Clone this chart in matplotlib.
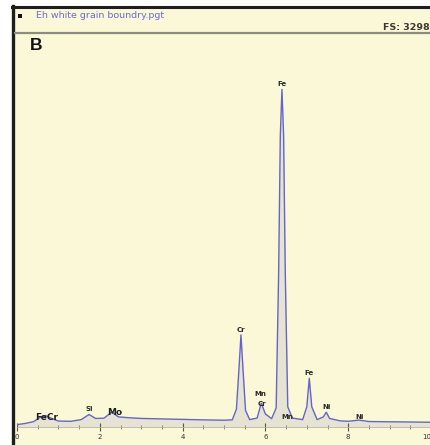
import matplotlib
matplotlib.use("Agg")
import matplotlib.pyplot as plt
from matplotlib.patches import Rectangle
from matplotlib.lines import Line2D

# ---------------- data ----------------
energy_kev = [0.00, 0.20, 0.40, 0.55, 0.70, 0.85, 1.00, 1.30, 1.55, 1.74, 1.90,
              2.10, 2.29, 2.45, 2.70, 3.00, 3.50, 4.00, 4.50, 5.00, 5.20, 5.30,
              5.36, 5.41, 5.46, 5.52, 5.62, 5.80, 5.90, 6.00, 6.15, 6.26, 6.32,
              6.36, 6.40, 6.44, 6.48, 6.54, 6.65, 6.90, 7.00, 7.06, 7.12, 7.25,
              7.40, 7.47, 7.55, 7.80, 8.00, 8.26, 8.50, 9.00, 9.50, 10.00]
counts = [20, 30, 45, 80, 95, 70, 50, 48, 62, 105, 72,
          74, 125, 85, 78, 72, 68, 64, 60, 57, 60, 150,
          480, 775, 480, 140, 62, 75, 200, 110, 70, 160, 1300,
          2450, 2840, 2450, 1300, 170, 75, 62, 170, 410, 170, 62,
          85, 125, 72, 52, 48, 58, 46, 44, 42, 40]

peak_labels = ["Fe", "Cr", "Fe", "Mn", "Cr", "Mn", "Ni", "Ni", "Si", "Mo", "FeCr"]
peak_energy = [6.40, 5.41, 7.06, 5.88, 5.92, 6.52, 7.47, 8.28, 1.74, 2.35, 0.72]
peak_counts = [2840, 775, 410, 230, 150, 40, 125, 40, 105, 60, 25]

x_ticks = [0, 2, 4, 6, 8, 10]
x_tick_labels = ["0", "2", "4", "6", "8", "10"]
full_scale = 3298
title_text = "Eh white grain boundry.pgt"
fs_text = "FS: 3298"
panel_letter = "B"

# ---------------- figure ----------------
W, H = 431, 445
fig = plt.figure(figsize=(W / 100, H / 100), dpi=100, facecolor="white")
cream = "#FBF8D8"

def fx(px):
    return px / W

def fy(py):
    return 1 - py / H

# cream panel
fig.patches.append(Rectangle((fx(13), 0), 1 - fx(13), fy(7), transform=fig.transFigure,
                             facecolor=cream, edgecolor="none", zorder=-5))
# top black line
fig.add_artist(Line2D([fx(12), 1], [fy(7), fy(7)], transform=fig.transFigure,
                      color="#1e1e1e", lw=2.2, zorder=3))
# left black border
fig.add_artist(Line2D([fx(13.5), fx(13.5)], [0, fy(6)], transform=fig.transFigure,
                      color="#1e1e1e", lw=2.4, zorder=3))
# gray header separator
fig.add_artist(Line2D([fx(15), 1], [fy(32.5), fy(32.5)], transform=fig.transFigure,
                      color="#8c8c7c", lw=1.6, zorder=3))
# small black square
fig.patches.append(Rectangle((fx(18), fy(18)), fx(4.5), 4.5 / H, transform=fig.transFigure,
                             facecolor="#111111", edgecolor="none", zorder=3))
fig.text(fx(36), fy(15.5), title_text, fontsize=6.8, color="#6a6ad4",
         va="center", ha="left", family="DejaVu Sans")
fig.text(fx(430), fy(28), fs_text, fontsize=6.8, color="#3a3a30", fontweight="bold",
         va="center", ha="right", family="DejaVu Sans")
fig.text(fx(30), fy(45.5), panel_letter, fontsize=12.5, fontweight="bold", color="#111111",
         va="center", ha="left", family="Liberation Sans")

# ---------------- spectrum axes ----------------
y_bottom_px = 427
y_top_px = 35
ax = fig.add_axes([fx(17), fy(y_bottom_px), fx(431) - fx(17), (y_bottom_px - y_top_px) / H])
ax.set_zorder(2)
ax.set_facecolor("none")
ax.set_xlim(0, 10)
ax.set_ylim(0, full_scale)

ax.fill_between(energy_kev, 0, counts, color="#d9d8cc", alpha=0.6, lw=0, zorder=1)
ax.plot(energy_kev, counts, color="#6464cc", lw=1.0, zorder=2)

for lab, e, c in zip(peak_labels, peak_energy, peak_counts):
    big = lab in ("FeCr", "Mo")
    ax.text(e, c + 20, lab, fontsize=6.5 if big else 5, fontweight="bold",
            color="#1e1e1e" if big else "#2a2a2a", ha="center", va="bottom",
            zorder=3, family="DejaVu Sans")

for s in ["top", "right", "left"]:
    ax.spines[s].set_visible(False)
ax.spines["bottom"].set_color("#b8b6a0")
ax.spines["bottom"].set_linewidth(0.6)
ax.set_yticks([])
ax.set_xticks(x_ticks)
ax.set_xticklabels(x_tick_labels)
ax.set_xticks([i * 0.5 for i in range(21)], minor=True)
ax.tick_params(axis="x", which="major", direction="inout", length=6, width=0.8,
               color="#555548", labelsize=5, labelcolor="#333333", pad=2)
ax.tick_params(axis="x", which="minor", direction="inout", length=3, width=0.6,
               color="#77776a")
ax.get_xticklabels()[-1].set_horizontalalignment("right")

fig.savefig("out.png", dpi=100, facecolor=fig.get_facecolor())
